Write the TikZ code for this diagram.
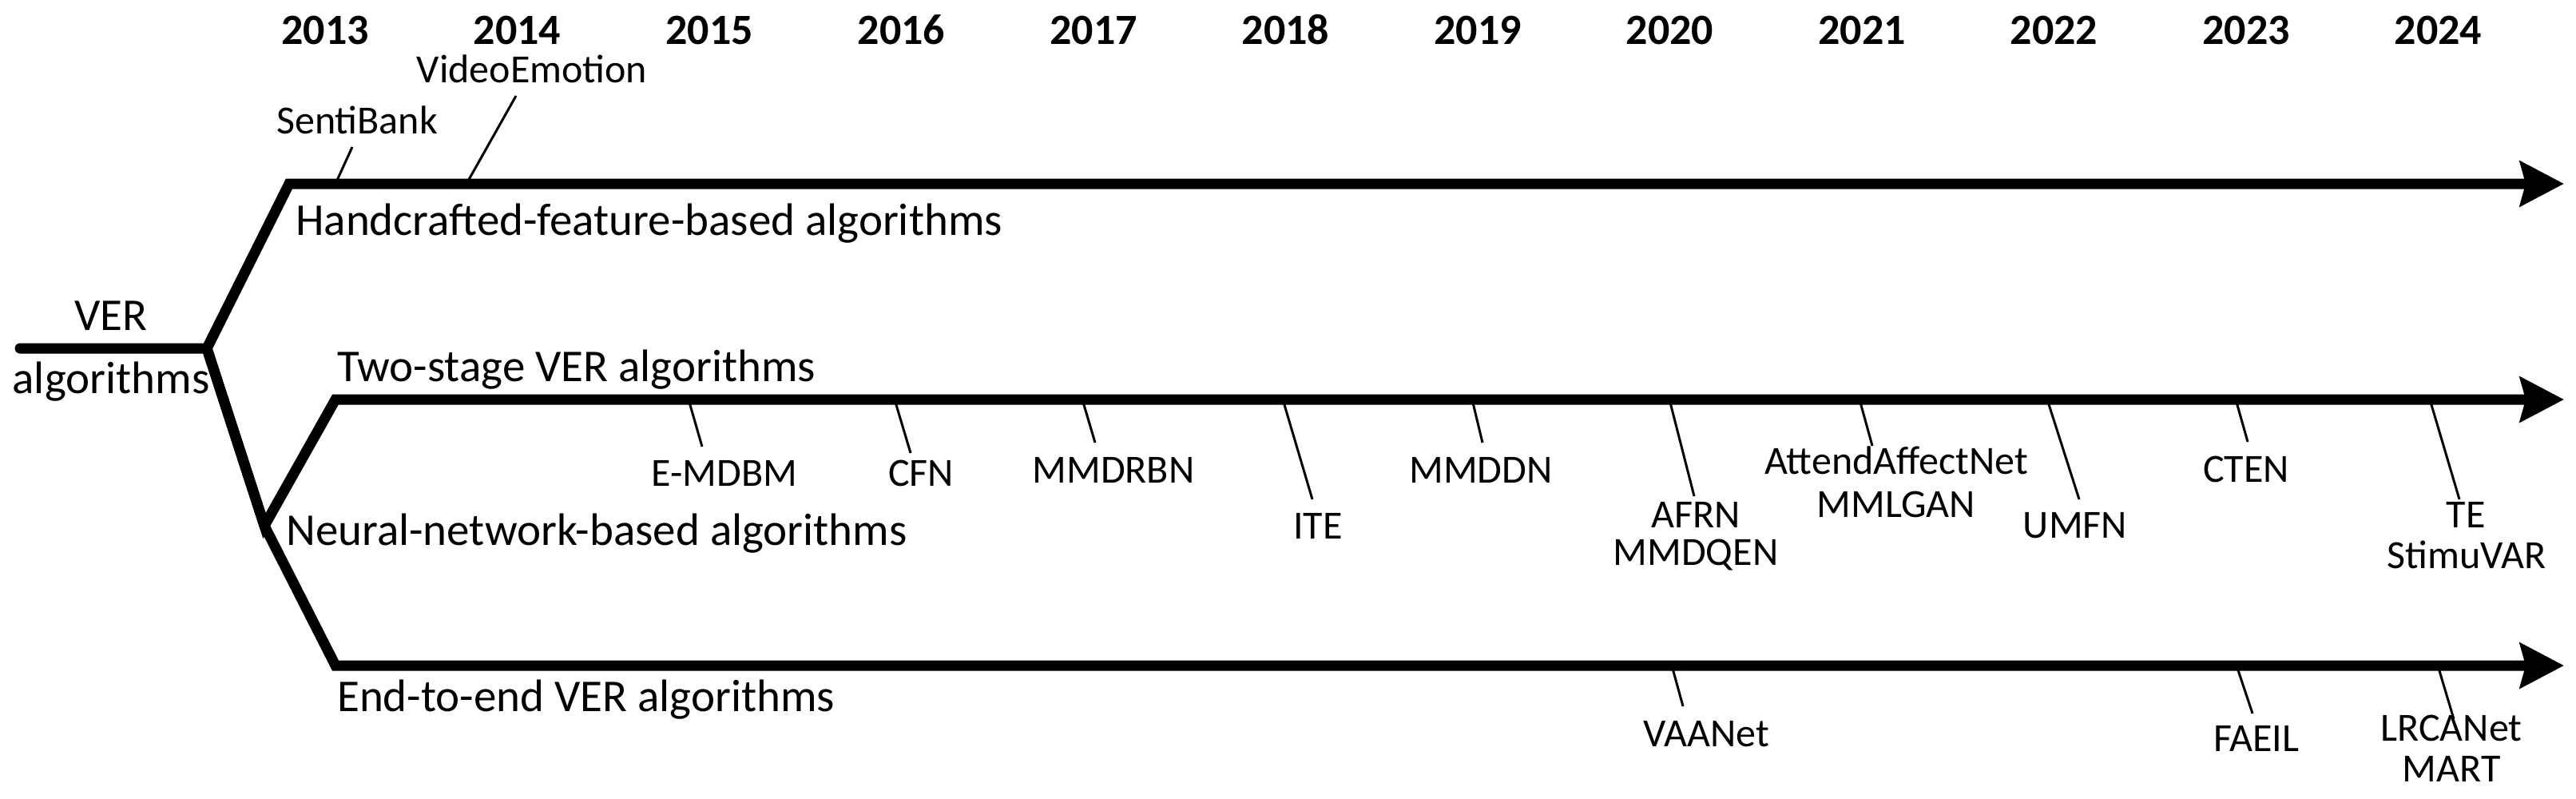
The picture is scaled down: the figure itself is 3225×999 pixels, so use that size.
\documentclass[tikz,border=0pt]{standalone}
\usepackage{fontspec}
\setmainfont{Carlito}
\usetikzlibrary{arrows.meta}
\begin{document}
\begin{tikzpicture}[x=1pt,y=-1pt,
  trunk/.style={line width=13pt, line join=miter},
  arw/.style={-{Stealth[length=55pt,width=56pt,inset=7pt]}},
  stem/.style={line width=3pt},
  yr/.style={anchor=base, inner sep=0pt, font=\fontsize{54}{60}\selectfont\bfseries},
  cat/.style={anchor=base west, inner sep=0pt, font=\fontsize{57}{64}\selectfont},
  lab/.style={anchor=base, inner sep=0pt, font=\fontsize{50}{56}\selectfont},
]
\useasboundingbox (0,0) rectangle (3225,999);

% years
\foreach \y [count=\i from 0] in {2013,2014,2015,2016,2017,2018,2019,2020,2021,2022,2023,2024}
  \node[yr] (y\y) at ({407+240.5*\i},55) {\y};

% trunk coordinates
\coordinate (S) at (25,436);
\coordinate (J0) at (259,436);
\coordinate (H0) at (362,230);
\coordinate (H1) at (3210,230);
\coordinate (J1) at (331,658);
\coordinate (T0) at (420,500);
\coordinate (T1) at (3210,500);
\coordinate (E0) at (420,833);
\coordinate (E1) at (3210,833);

\draw[trunk, line cap=round, arw] (S) -- (J0) -- (H0) -- (H1);
\draw[trunk, arw] (J0) -- (J1) -- (T0) -- (T1);
\draw[trunk, arw] (J0) -- (J1) -- (E0) -- (E1);

% category texts
\node[cat] (ver1) at (139,413) [anchor=base] {VER};
\node[cat] (ver2) at (139,492) [anchor=base] {algorithms};
\node[cat] (hand) at (370,294) {Handcrafted-feature-based algorithms};
\node[cat] (two) at (422,477) {Two-stage VER algorithms};
\node[cat] (neu) at (358,682) {Neural-network-based algorithms};
\node[cat] (e2e) at (422,890) {End-to-end VER algorithms};

% handcrafted labels
\node[lab] (senti) at (447,167) {SentiBank};
\node[lab] (video) at (666,103) {VideoEmotion};
\coordinate (sa) at (420,230); \coordinate (sb) at (441,184);
\coordinate (va) at (584,230); \coordinate (vb) at (646,120);
\draw[stem] (sa) -- (sb);
\draw[stem] (va) -- (vb);

% two-stage labels
\node[lab] (emdbm) at (907,608) {E-MDBM};
\node[lab] (cfn) at (1153,608) {CFN};
\node[lab] (mmdrbn) at (1394,604) {MMDRBN};
\node[lab] (ite) at (1650,674) {ITE};
\node[lab] (mmddn) at (1854,604) {MMDDN};
\node[lab] (afrn) at (2123,660) {AFRN};
\node[lab] (mmdqen) at (2123,707) {MMDQEN};
\node[lab] (attend) at (2374,593) {AttendAffectNet};
\node[lab] (mmlgan) at (2374,647) {MMLGAN};
\node[lab] (umfn) at (2598,673) {UMFN};
\node[lab] (cten) at (2812,603) {CTEN};
\node[lab] (te) at (3087,660) {TE};
\node[lab] (stimu) at (3088,711) {StimuVAR};

\coordinate (a1) at (862,500);  \coordinate (b1) at (879,559);
\coordinate (a2) at (1120,500); \coordinate (b2) at (1140,567);
\coordinate (a3) at (1355,500); \coordinate (b3) at (1371,554);
\coordinate (a4) at (1606,500); \coordinate (b4) at (1643,625);
\coordinate (a5) at (1843,500); \coordinate (b5) at (1856,554);
\coordinate (a6) at (2090,500); \coordinate (b6) at (2121,621);
\coordinate (a7) at (2328,500); \coordinate (b7) at (2344,558);
\coordinate (a8) at (2563,500); \coordinate (b8) at (2603,625);
\coordinate (a9) at (2799,500); \coordinate (b9) at (2814,553);
\coordinate (a10) at (3042,500); \coordinate (b10) at (3079,625);
\foreach \k in {1,...,10} \draw[stem] (a\k) -- (b\k);

% end-to-end labels
\node[lab] (vaanet) at (2136,934) {VAANet};
\node[lab] (faeil) at (2825,940) {FAEIL};
\node[lab] (lrcanet) at (3069,927) {LRCANet};
\node[lab] (mart) at (3069,978) {MART};
\coordinate (c1) at (2093,833); \coordinate (d1) at (2107,884);
\coordinate (c2) at (2800,833); \coordinate (d2) at (2820,893);
\coordinate (c3) at (3052,833); \coordinate (d3) at (3072,900);
\foreach \k in {1,2,3} \draw[stem] (c\k) -- (d\k);
\end{tikzpicture}
\end{document}
